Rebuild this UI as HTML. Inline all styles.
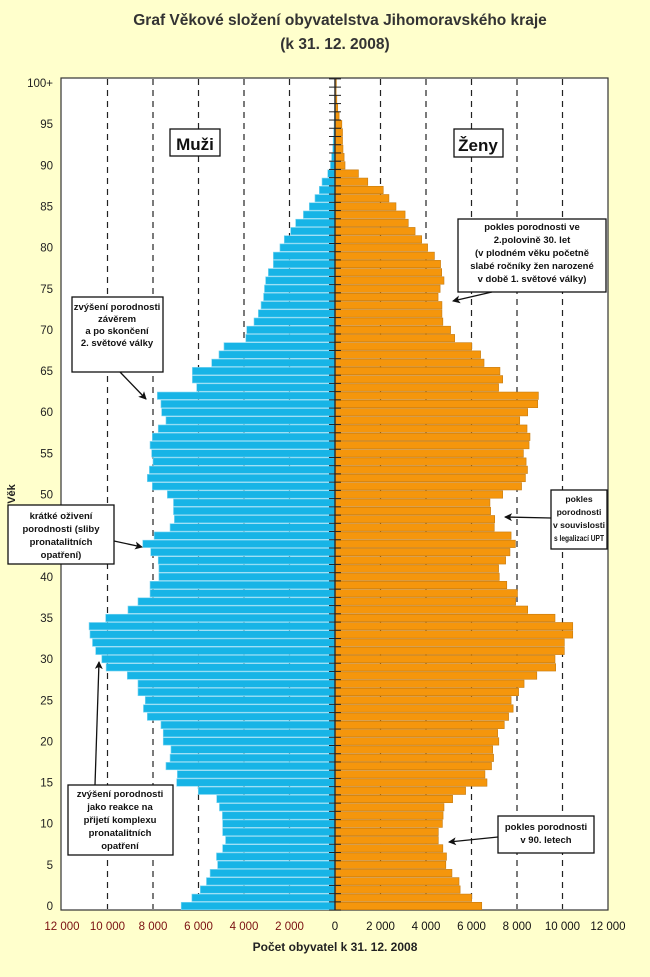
<!DOCTYPE html>
<html><head><meta charset="utf-8">
<style>
html,body{margin:0;padding:0;background:#ffffcc;}
svg{display:block;font-family:"Liberation Sans",Arial,sans-serif;}
</style></head>
<body>
<svg id="s" width="650" height="977" viewBox="0 0 650 977" xmlns="http://www.w3.org/2000/svg">
<rect x="0" y="0" width="650" height="977" fill="#ffffcc"/>
<text x="340" y="25" text-anchor="middle" font-size="15.5" font-weight="bold" fill="#333">Graf  Věkové složení obyvatelstva Jihomoravského kraje</text>
<text x="335" y="49" text-anchor="middle" font-size="15.5" font-weight="bold" fill="#333">(k 31. 12. 2008)</text>
<rect x="61" y="78" width="547" height="832" fill="#fff" stroke="#333" stroke-width="1.2"/>
<g id="grid"></g>
<g id="bars"></g>
<line x1="335" y1="78" x2="335" y2="910" stroke="#333" stroke-width="1.5"/>
<g id="ticks"></g>
<g font-size="11.5" text-anchor="end" fill="#222" id="ylab"></g>
<text transform="translate(15,494) rotate(-90)" text-anchor="middle" font-size="11" font-weight="bold" fill="#222">Věk</text>
<g font-size="11.5" text-anchor="middle" id="xlab"></g>
<text x="335" y="951" text-anchor="middle" font-size="12" font-weight="bold" fill="#222">Počet obyvatel k 31. 12. 2008</text>

<g fill="#fff" stroke="#111" stroke-width="1.3">
<rect x="170" y="129" width="50" height="27"/>
<rect x="454" y="129" width="49" height="28"/>
<rect x="72" y="297" width="91" height="75"/>
<rect x="458" y="219" width="148" height="73"/>
<rect x="8" y="505" width="106" height="59"/>
<rect x="551" y="490" width="56" height="59"/>
<rect x="68" y="785" width="105" height="70"/>
<rect x="498" y="816" width="96" height="37"/>
</g>
<text x="195" y="150" text-anchor="middle" font-size="17" font-weight="bold" fill="#111">Muži</text>
<text x="478" y="151" text-anchor="middle" font-size="17" font-weight="bold" fill="#111">Ženy</text>
<g font-size="9.5" font-weight="bold" fill="#111" text-anchor="middle">
<text x="117" y="310">zvýšení porodnosti</text><text x="117" y="322">závěrem</text><text x="117" y="334">a po skončení</text><text x="117" y="346">2. světové války</text>
<text x="532" y="230">pokles porodnosti ve</text><text x="532" y="243">2.polovině 30. let</text><text x="532" y="256">(v plodném věku početně</text><text x="532" y="269">slabé ročníky žen narozené</text><text x="532" y="282">v době 1. světové války)</text>
<text x="61" y="519">krátké oživení</text><text x="61" y="532">porodnosti (sliby</text><text x="61" y="545">pronatalitních</text><text x="61" y="558">opatření)</text>
<text x="120" y="797">zvýšení porodnosti</text><text x="120" y="810">jako reakce na</text><text x="120" y="823">přijetí komplexu</text><text x="120" y="836">pronatalitních</text><text x="120" y="849">opatření</text>
<text x="546" y="830">pokles porodnosti</text><text x="546" y="843">v 90. letech</text>
</g>
<g font-size="8.6" font-weight="bold" fill="#111" text-anchor="middle">
<text x="579" y="502">pokles</text><text x="579" y="515">porodnosti</text><text x="579" y="528">v souvislosti</text><text x="579" y="541" textLength="50" lengthAdjust="spacingAndGlyphs">s legalizací UPT</text>
</g>
<defs><marker id="ar" markerWidth="8" markerHeight="8" refX="7" refY="4" orient="auto" markerUnits="userSpaceOnUse"><path d="M0,0 L8,4 L0,8 L2,4 z" fill="#111"/></marker></defs>
<g stroke="#111" stroke-width="1.3" marker-end="url(#ar)">
<line x1="120" y1="372" x2="146" y2="399"/>
<line x1="492" y1="292" x2="453" y2="301"/>
<line x1="114" y1="541" x2="142" y2="547"/>
<line x1="551" y1="518" x2="505" y2="517"/>
<line x1="95" y1="785" x2="99" y2="662"/>
<line x1="498" y1="837" x2="449" y2="842"/>
</g>
</svg>
<script>
var NS="http://www.w3.org/2000/svg";
function el(p,t,a){var e=document.createElementNS(NS,t);for(var k in a)e.setAttribute(k,a[k]);p.appendChild(e);return e;}
var cx=335,k=0.02275,y0=906,dy=8.23;
var M=[6760,6290,5920,5650,5490,5160,5210,4940,4810,4940,4940,4950,5080,5200,6010,6960,6930,7430,7250,7210,7550,7550,7650,8250,8420,8340,8660,8660,9130,10060,10250,10520,10660,10770,10810,10080,9100,8660,8130,8130,7740,7740,7770,8100,8450,7950,7250,7060,7100,7100,7370,8030,8250,8160,8000,8060,8130,8030,7770,7430,7620,7650,7810,6080,6270,6270,5420,5100,4880,3920,3880,3560,3370,3250,3140,3100,3050,2930,2710,2710,2420,2230,1950,1730,1390,1130,880,690,570,320,200,150,100,80,60,40,30,20,10,5,5];
var F=[6450,6010,5500,5450,5140,4870,4900,4740,4540,4540,4720,4750,4790,5170,5740,6680,6590,6880,6970,6930,7200,7150,7440,7630,7830,7740,8070,8310,8870,9700,9670,10080,10080,10450,10450,9670,8470,7940,8020,7550,7220,7190,7500,7690,7930,7740,7000,7020,6840,6810,7370,8200,8370,8460,8400,8280,8530,8570,8440,8120,8470,8910,8940,7190,7370,7250,6550,6400,6010,5260,5080,4740,4700,4700,4530,4620,4790,4690,4640,4370,4070,3810,3520,3220,3080,2680,2370,2120,1440,1030,440,400,350,330,330,300,180,120,80,50,60];
var g=document.getElementById("grid");
for(var i=1;i<=5;i++){[-1,1].forEach(function(s){var x=cx+s*i*2000*k;el(g,"line",{x1:x,y1:79,x2:x,y2:909,stroke:"#222","stroke-width":1.2,"stroke-dasharray":"6,5"});});}
var b=document.getElementById("bars");
for(var a=0;a<=100;a++){var yc=y0-a*dy,h=7.4,yt=yc-h/2;
var wm=M[a]*k,wf=F[a]*k;
el(b,"rect",{x:cx-wm,y:yt,width:wm,height:h,fill:"#17b4e6",stroke:"#7fd6f2","stroke-width":0.6});
el(b,"rect",{x:cx,y:yt,width:wf,height:h,fill:"#f5960c",stroke:"#c47a10","stroke-width":0.6});}
var t=document.getElementById("ticks");
for(var a=0;a<=101;a++){var y=y0+dy/2-a*dy;el(t,"line",{x1:cx-6,y1:y,x2:cx+6,y2:y,stroke:"#222","stroke-width":1});}
var yl=document.getElementById("ylab");
for(var a=0;a<=100;a+=5){var e=el(yl,"text",{x:53,y:y0-a*dy+4});e.textContent=a==100?"100+":String(a);}
var xl=document.getElementById("xlab");
for(var i=-6;i<=6;i++){var v=Math.abs(i)*2000;var s=v==0?"0":(v/1000|0)+"\u00a0000";
var e=el(xl,"text",{x:cx+i*2000*k,y:930,fill:i<0?"#7a1010":"#111"});e.textContent=s;}
</script>
</body></html>
